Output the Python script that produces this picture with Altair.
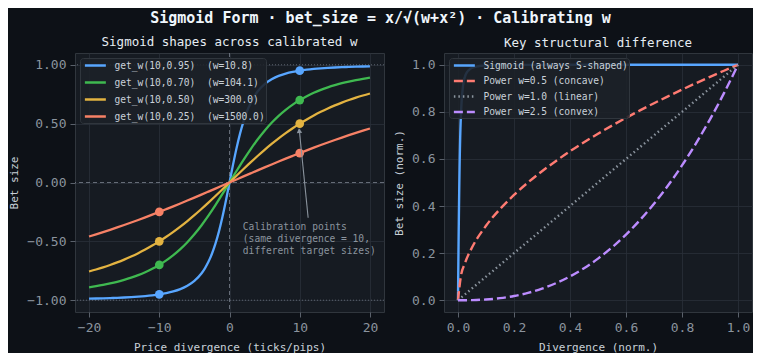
import altair as alt
import pandas as pd

FONT = "DejaVu Sans Mono"
BG = "#0d1117"
PLOT_BG = "#161b22"
GRID = "#2a3039"
FRAME = "#30363d"
TICK_LBL = "#8b949e"
AX_TITLE = "#c9d1d9"

# ---------------- left panel data ----------------
left_labels = [
    "get_w(10,0.95)\u00a0\u00a0(w=10.8)\u00a0\u00a0\u00a0",
    "get_w(10,0.70)\u00a0\u00a0(w=104.1)\u00a0\u00a0\u00a0",
    "get_w(10,0.50)\u00a0\u00a0(w=300.0)\u00a0\u00a0\u00a0",
    "get_w(10,0.25)\u00a0\u00a0(w=1500.0)\u00a0\u00a0\u00a0",
]
left_colors = ["#58a6ff", "#3fb950", "#e3b341", "#f78166"]

blue_x = [-20, -19, -18, -17, -16, -15, -14, -13, -12, -11, -10, -9, -8, -7, -6, -5, -4,
          -3.5, -3, -2.5, -2, -1.5, -1, -0.5, 0, 0.5, 1, 1.5, 2, 2.5, 3, 3.5,
          4, 5, 6, 7, 8, 9, 10, 11, 12, 13, 14, 15, 16, 17, 18, 19, 20]
blue_y = [-0.9868, -0.9854, -0.9837, -0.9818, -0.9796, -0.9768, -0.9735, -0.9695, -0.9645,
          -0.9582, -0.9500, -0.9393, -0.9250, -0.9052, -0.8771, -0.8357, -0.7727,
          -0.7290, -0.6742, -0.6055, -0.5199, -0.4152, -0.2911, -0.1504, 0.0,
          0.1504, 0.2911, 0.4152, 0.5199, 0.6055, 0.6742, 0.7290,
          0.7727, 0.8357, 0.8771, 0.9052, 0.9250, 0.9393, 0.9500, 0.9582, 0.9645,
          0.9695, 0.9735, 0.9768, 0.9796, 0.9818, 0.9837, 0.9854, 0.9868]

grid_x = [-20, -19, -18, -17, -16, -15, -14, -13, -12, -11, -10, -9, -8, -7, -6, -5, -4, -3, -2, -1,
          0, 1, 2, 3, 4, 5, 6, 7, 8, 9, 10, 11, 12, 13, 14, 15, 16, 17, 18, 19, 20]
green_y = [-0.8908, -0.8810, -0.8700, -0.8574, -0.8432, -0.8269, -0.8082, -0.7866, -0.7618, -0.7332,
           -0.7000, -0.6615, -0.6170, -0.5657, -0.5069, -0.4401, -0.3650, -0.2821, -0.1924, -0.0975,
           0.0, 0.0975, 0.1924, 0.2821, 0.3650, 0.4401, 0.5069, 0.5657, 0.6170, 0.6615, 0.7000,
           0.7332, 0.7618, 0.7866, 0.8082, 0.8269, 0.8432, 0.8574, 0.8700, 0.8810, 0.8908]
yellow_y = [-0.7559, -0.7390, -0.7206, -0.7005, -0.6786, -0.6547, -0.6286, -0.6003, -0.5695, -0.5361,
            -0.5000, -0.4611, -0.4193, -0.3747, -0.3273, -0.2774, -0.2250, -0.1707, -0.1147, -0.0576,
            0.0, 0.0576, 0.1147, 0.1707, 0.2250, 0.2774, 0.3273, 0.3747, 0.4193, 0.4611, 0.5000,
            0.5361, 0.5695, 0.6003, 0.6286, 0.6547, 0.6786, 0.7005, 0.7206, 0.7390, 0.7559]
red_y = [-0.4588, -0.4404, -0.4215, -0.4019, -0.3818, -0.3612, -0.3400, -0.3182, -0.2960, -0.2732,
         -0.2500, -0.2263, -0.2023, -0.1779, -0.1531, -0.1280, -0.1027, -0.0772, -0.0516, -0.0258,
         0.0, 0.0258, 0.0516, 0.0772, 0.1027, 0.1280, 0.1531, 0.1779, 0.2023, 0.2263, 0.2500,
         0.2732, 0.2960, 0.3182, 0.3400, 0.3612, 0.3818, 0.4019, 0.4215, 0.4404, 0.4588]

cal_x = [-10, 10, -10, 10, -10, 10, -10, 10]
cal_y = [-0.95, 0.95, -0.70, 0.70, -0.50, 0.50, -0.25, 0.25]

left_ticks_x = [-20, -10, 0, 10, 20]
left_ticks_y = [-1.0, -0.75, -0.5, -0.25, 0.0, 0.25, 0.5, 0.75, 1.0]

annot_text = ["Calibration points", "(same divergence = 10,", "different target sizes)"]

# ---------------- right panel data ----------------
right_labels = [
    "Sigmoid (always S-shaped)",
    "Power w=0.5 (concave)",
    "Power w=1.0 (linear)",
    "Power w=2.5 (convex)",
]
right_colors = ["#58a6ff", "#ff7b72", "#8b949e", "#bc8cff"]

sig_x = [0, 0.002, 0.0036, 0.006, 0.008, 0.011, 0.017, 0.025, 0.041, 0.058, 0.1, 0.2, 0.4, 0.6, 0.8, 1.0]
sig_y = [0, 0.24, 0.40, 0.59, 0.70, 0.80, 0.90, 0.95, 0.98, 0.99, 0.997, 0.999, 1.0, 1.0, 1.0, 1.0]

pow_x = [0, 0.01, 0.025, 0.05, 0.1, 0.15, 0.2, 0.25, 0.3, 0.35, 0.4, 0.45, 0.5, 0.55, 0.6,
         0.65, 0.7, 0.75, 0.8, 0.85, 0.9, 0.95, 1.0]
concave_y = [0, 0.1, 0.158, 0.2236, 0.3162, 0.3873, 0.4472, 0.5, 0.5477, 0.5916, 0.6325, 0.6708,
             0.7071, 0.7416, 0.7746, 0.8062, 0.8367, 0.8660, 0.8944, 0.9220, 0.9487, 0.9747, 1.0]
linear_y = [0, 0.01, 0.025, 0.05, 0.1, 0.15, 0.2, 0.25, 0.3, 0.35, 0.4, 0.45, 0.5, 0.55, 0.6,
            0.65, 0.7, 0.75, 0.8, 0.85, 0.9, 0.95, 1.0]
convex_y = [0, 0.00001, 0.0001, 0.00056, 0.00316, 0.0087, 0.0179, 0.03125, 0.0493, 0.0725, 0.1012,
            0.1358, 0.1768, 0.2243, 0.2789, 0.3406, 0.4100, 0.4871, 0.5724, 0.6661, 0.7684, 0.8796, 1.0]

right_ticks = [0.0, 0.2, 0.4, 0.6, 0.8, 1.0]

# ---------------- build tables ----------------
rows = []
for xv, yv in zip(blue_x, blue_y):
    rows.append({"x": xv, "y": yv, "s": left_labels[0]})
for i, ys in enumerate([green_y, yellow_y, red_y], start=1):
    for xv, yv in zip(grid_x, ys):
        rows.append({"x": xv, "y": yv, "s": left_labels[i]})
left_df = pd.DataFrame(rows)
cal_df = pd.DataFrame({"x": cal_x, "y": cal_y,
                       "s": [left_labels[k // 2] for k in range(8)]})

rrows = []
for xv, yv in zip(sig_x, sig_y):
    rrows.append({"x": xv, "y": yv, "s": right_labels[0]})
for i, ys in enumerate([concave_y, linear_y, convex_y], start=1):
    for xv, yv in zip(pow_x, ys):
        rrows.append({"x": xv, "y": yv, "s": right_labels[i]})
right_df = pd.DataFrame(rrows)

# ---------------- left chart ----------------
W, H = 309, 259
lx = alt.X("x:Q", scale=alt.Scale(domain=[-22, 22], nice=False, zero=False),
           axis=alt.Axis(values=left_ticks_x, format="d", title="Price divergence (ticks/pips)"))
ly = alt.Y("y:Q", scale=alt.Scale(domain=[-1.1, 1.1], nice=False),
           axis=alt.Axis(values=left_ticks_y, format=".2f", title="Bet size"))
lcolor = alt.Color("s:N", scale=alt.Scale(domain=left_labels, range=left_colors),
                   sort=left_labels,
                   legend=alt.Legend(title=None, orient="top-left", offset=5, rowPadding=5))

zero_v = alt.Chart(pd.DataFrame({"x": [0]})).mark_rule(
    color="#6e7681", strokeDash=[4, 3], strokeWidth=0.9).encode(x="x:Q")
zero_h = alt.Chart(pd.DataFrame({"y": [0]})).mark_rule(
    color="#6e7681", strokeDash=[4, 3], strokeWidth=0.9).encode(y="y:Q")
one_h = alt.Chart(pd.DataFrame({"y": [-1, 1]})).mark_rule(
    color="#6e7681", strokeDash=[1, 2], strokeWidth=0.8).encode(y="y:Q")

lines_l = alt.Chart(left_df).mark_line(strokeWidth=2.3, interpolate="monotone").encode(
    x=lx, y=ly, color=lcolor, detail="s:N", order="x:Q")
pts_l = alt.Chart(cal_df).mark_circle(size=75, opacity=1).encode(
    x="x:Q", y="y:Q",
    color=alt.Color("s:N", scale=alt.Scale(domain=left_labels, range=left_colors), legend=None))

arrow_df = pd.DataFrame({"x": [11.2], "y": [-0.30], "x2": [9.93], "y2": [0.45]})
arrow = alt.Chart(arrow_df).mark_rule(color="#8b949e", strokeWidth=1.1).encode(
    x="x:Q", y="y:Q", x2="x2:Q", y2="y2:Q")
head = alt.Chart(pd.DataFrame({"x": [9.93], "y": [0.44]})).mark_point(
    shape="triangle-up", filled=True, size=30, color="#8b949e", angle=354, opacity=1).encode(
    x="x:Q", y="y:Q")
txt = alt.Chart(pd.DataFrame({"x": [1.9], "y": [-0.335], "t": [annot_text]})).mark_text(
    align="left", baseline="top", font=FONT, fontSize=9.6, color="#8b949e", lineHeight=12
).encode(x="x:Q", y="y:Q", text="t")

left = alt.layer(zero_v, zero_h, one_h, lines_l, pts_l, arrow, head, txt).properties(
    width=W, height=H,
    title=alt.TitleParams("Sigmoid shapes across calibrated w", fontSize=12.5,
                          font=FONT, color="#e6edf3", fontWeight="normal", offset=4))

# ---------------- right chart ----------------
rx = alt.X("x:Q", scale=alt.Scale(domain=[-0.05, 1.05], nice=False, zero=False),
           axis=alt.Axis(values=right_ticks, format=".1f", title="Divergence (norm.)"))
ry = alt.Y("y:Q", scale=alt.Scale(domain=[-0.05, 1.05], nice=False, zero=False),
           axis=alt.Axis(values=right_ticks, format=".1f", title="Bet size (norm.)"))
rcolor = alt.Color("s:N", scale=alt.Scale(domain=right_labels, range=right_colors),
                   sort=right_labels,
                   legend=alt.Legend(title=None, orient="top-left", offset=5, rowPadding=3.5))
rdash = alt.StrokeDash("s:N", scale=alt.Scale(domain=right_labels,
                                               range=[[1, 0], [9, 4], [1.5, 3], [9, 4]]),
                       sort=right_labels,
                       legend=alt.Legend(title=None, orient="top-left", offset=5, rowPadding=3.5))
rwidth = alt.StrokeWidth("s:N", scale=alt.Scale(domain=right_labels, range=[2.4, 2.4, 1.4, 2.4]),
                         legend=None)
lines_r = alt.Chart(right_df).mark_line(interpolate="monotone").encode(
    x=rx, y=ry, color=rcolor, strokeDash=rdash, strokeWidth=rwidth, detail="s:N", order="x:Q")

right = alt.layer(lines_r).properties(
    width=308, height=H,
    title=alt.TitleParams("Key structural difference", fontSize=12.5,
                          font=FONT, color="#e6edf3", fontWeight="normal", offset=4))

chart = alt.hconcat(left, right, spacing=8).resolve_scale(
    color="independent", strokeDash="independent", strokeWidth="independent"
).properties(
    title=alt.TitleParams("Sigmoid Form · bet_size = x/√(w+x²) · Calibrating w",
                          fontSize=15, font=FONT, fontWeight="bold", color="#f0f6fc",
                          anchor="middle", offset=10),
    background=BG,
    padding={"left": 0, "top": 2, "right": 0, "bottom": 0},
).configure_view(
    fill=PLOT_BG, stroke=FRAME, strokeWidth=1
).configure_axis(
    grid=True, gridColor=GRID, gridWidth=0.8, domain=False,
    tickColor="#6e7681", tickSize=5, tickWidth=0.8,
    labelFont=FONT, labelFontSize=13, labelColor=TICK_LBL, labelPadding=4,
    titleFont=FONT, titleFontSize=11, titleColor=AX_TITLE, titleFontWeight="normal",
    titlePadding=7,
).configure_legend(
    labelFont=FONT, labelFontSize=9.6, labelColor="#c9d1d9", labelLimit=400,
    symbolType="M-0.5,0H3.5", symbolSize=110, symbolStrokeWidth=2.5,
    fillColor="rgba(28,33,40,0.88)", strokeColor=FRAME, cornerRadius=3,
    padding=1, labelOffset=20.5,
)

chart.save("out.html", embed_options={"renderer": "svg", "actions": False})
